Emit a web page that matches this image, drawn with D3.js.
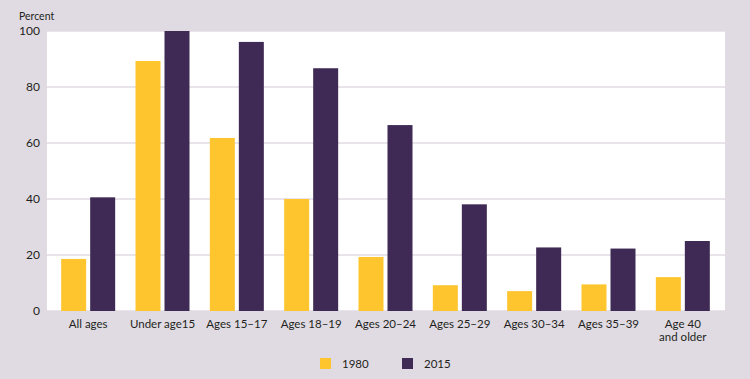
<!DOCTYPE html>
<html>
<head>
<meta charset="utf-8">
<script src="https://cdn.jsdelivr.net/npm/d3@7"></script>
<style>
  body { margin: 0; background: #e0dbe3; }
  text { font-family: "Lato", "Open Sans", sans-serif; fill: #231f20; }
</style>
</head>
<body>
<svg id="chart" width="750" height="379"></svg>
<script>
// data
var categories = ["All ages", "Under age15", "Ages 15\u201317", "Ages 18\u201319", "Ages 20\u201324",
  "Ages 25\u201329", "Ages 30\u201334", "Ages 35\u201339", "Age 40\nand older"];
var years = ["1980", "2015"];
var values1980 = [18.6, 89.3, 61.8, 40, 19.3, 9.2, 7.1, 9.5, 12.1];
var values2015 = [40.6, 100, 96.1, 86.7, 66.4, 38.1, 22.7, 22.3, 25];
var yTicks = [0, 20, 40, 60, 80, 100];
var colors = ["#fec52e", "#3f2a56"];

var svg = d3.select("#chart");

// plot area
var plot = { left: 47, right: 725, top: 31, bottom: 311 };

svg.append("rect")
  .attr("x", plot.left)
  .attr("y", plot.top)
  .attr("width", plot.right - plot.left)
  .attr("height", plot.bottom - plot.top)
  .attr("fill", "#fff");

var y = d3.scaleLinear().domain([0, 100]).range([plot.bottom, plot.top]);

var x0 = d3.scaleBand().domain(categories).range([51, 720]).padding(0);
var x1 = d3.scaleBand().domain(years).range([0, 54]).paddingInner(0.138);
var groupOffset = (x0.bandwidth() - 54) / 2;

// gridlines
svg.append("g")
  .selectAll("line")
  .data(yTicks)
  .enter()
    .append("line")
    .attr("x1", plot.left)
    .attr("x2", plot.right)
    .attr("y1", function(d) { return y(d); })
    .attr("y2", function(d) { return y(d); })
    .attr("stroke", "#e0dbe3")
    .attr("stroke-width", 1.5);

// y tick labels
svg.append("g")
  .selectAll("text")
  .data(yTicks)
  .enter()
    .append("text")
    .attr("x", 40)
    .attr("y", function(d) { return y(d); })
    .attr("dy", "0.35em")
    .attr("text-anchor", "end")
    .attr("font-size", 12)
    .text(function(d) { return d; });

svg.append("text")
  .attr("x", 19)
  .attr("y", 20)
  .attr("font-size", 10.5)
  .text("Percent");

// bars
var rows = categories.map(function(c, i) {
  return { cat: c, vals: [values1980[i], values2015[i]] };
});

var groups = svg.append("g")
  .selectAll("g")
  .data(rows)
  .enter()
    .append("g")
    .attr("transform", function(d) { return "translate(" + (x0(d.cat) + groupOffset) + ",0)"; });

groups.selectAll("rect")
  .data(function(d) { return d.vals.map(function(v, j) { return { year: years[j], v: v, j: j }; }); })
  .enter()
    .append("rect")
    .attr("x", function(d) { return x1(d.year); })
    .attr("y", function(d) { return y(d.v); })
    .attr("width", x1.bandwidth())
    .attr("height", function(d) { return y(0) - y(d.v); })
    .attr("fill", function(d) { return colors[d.j]; });

// category labels
var labels = svg.append("g")
  .selectAll("text")
  .data(categories)
  .enter()
    .append("text")
    .attr("x", function(d) { return x0(d) + x0.bandwidth() / 2; })
    .attr("y", 328)
    .attr("text-anchor", "middle")
    .attr("font-size", 11.5);

labels.each(function(d) {
  var t = d3.select(this);
  d.split("\n").forEach(function(line, i) {
    t.append("tspan")
      .attr("x", t.attr("x"))
      .attr("dy", i === 0 ? 0 : 13)
      .text(line);
  });
});

// legend
var legend = svg.append("g")
  .selectAll("g")
  .data(years)
  .enter()
    .append("g")
    .attr("transform", function(d, i) { return "translate(" + (320 + i * 82) + ",358)"; });

legend.append("rect")
  .attr("width", 11)
  .attr("height", 11)
  .attr("fill", function(d, i) { return colors[i]; });

legend.append("text")
  .attr("x", 22)
  .attr("y", 5.5)
  .attr("dy", "0.35em")
  .attr("font-size", 11.5)
  .text(function(d) { return d; });
</script>
</body>
</html>
